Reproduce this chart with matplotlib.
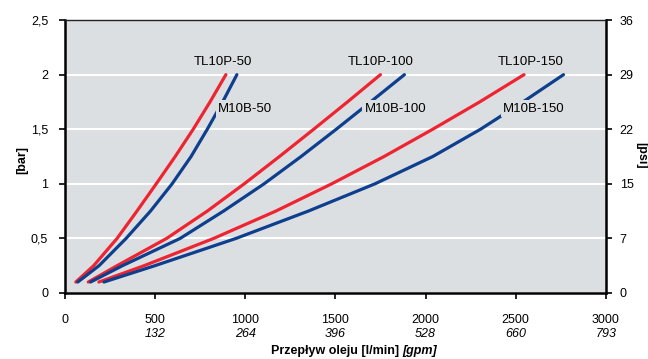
import matplotlib
matplotlib.use('Agg')
import matplotlib.pyplot as plt
import matplotlib.transforms as mtransforms

plt.rcParams['font.family'] = ['Liberation Sans', 'DejaVu Sans']

bar = [0.1, 0.25, 0.5, 0.75, 1.0, 1.25, 1.5, 1.75, 2.0]
tl10p_50 = [61, 160, 290, 400, 507, 612, 712, 805, 893]
m10b_50 = [72, 190, 340, 475, 595, 700, 790, 875, 954]
tl10p_100 = [130, 290, 565, 790, 995, 1190, 1380, 1567, 1750]
m10b_100 = [143, 320, 640, 880, 1105, 1310, 1505, 1695, 1883]
tl10p_150 = [189, 440, 826, 1170, 1480, 1770, 2040, 2300, 2546]
m10b_150 = [217, 500, 950, 1350, 1720, 2040, 2305, 2540, 2765]

series = [('TL10P-50', tl10p_50), ('M10B-50', m10b_50),
          ('TL10P-100', tl10p_100), ('M10B-100', m10b_100),
          ('TL10P-150', tl10p_150), ('M10B-150', m10b_150)]

# label positions (flow, bar)
label_pos = {'TL10P-50': (878, 2.12), 'M10B-50': (1000, 1.69),
             'TL10P-100': (1750, 2.12), 'M10B-100': (1833, 1.69),
             'TL10P-150': (2583, 2.12), 'M10B-150': (2600, 1.69)}

x_ticks = [0, 500, 1000, 1500, 2000, 2500, 3000]
gpm_labels = ['', '132', '264', '396', '528', '660', '793']
y_ticks = [0, 0.5, 1, 1.5, 2, 2.5]
y_labels = ['0', '0,5', '1', '1,5', '2', '2,5']
psi_labels = ['0', '7', '15', '22', '29', '36']

red = '#ee2430'
blue = '#0e3f8e'
bg = '#dcdfe2'

fig = plt.figure(figsize=(6.48, 3.59), dpi=100)
ax = fig.add_axes([0.100, 0.184, 0.835, 0.760])
ax.set_facecolor(bg)

for name, flow in series:
    col = red if name.startswith('TL') else blue
    ax.plot(flow, bar, color=col, lw=2.3, solid_capstyle='round',
            solid_joinstyle='round', zorder=3)

for name, (xx, yy) in label_pos.items():
    ax.text(xx, yy, name, ha='center', va='center', fontsize=9.5, zorder=4,
            bbox=dict(facecolor=bg, edgecolor='none', pad=1.5))

ax.set_xlim(0, 3000)
ax.set_ylim(0, 2.5)
ax.set_xticks(x_ticks)
ax.set_xticklabels([str(v) for v in x_ticks], fontsize=9)
ax.set_yticks(y_ticks)
ax.set_yticklabels(y_labels, fontsize=9)
ax.grid(axis='y', color='white', lw=1.5, zorder=1)
ax.set_axisbelow(True)
ax.tick_params(axis='y', direction='out', length=4, width=1.2, pad=8)
ax.tick_params(axis='x', direction='out', length=4, width=1.2, pad=11)

for s in ['left', 'right', 'bottom']:
    ax.spines[s].set_linewidth(1.8)
    ax.spines[s].set_color('black')
ax.spines['top'].set_linewidth(1.0)
ax.spines['top'].set_color('#222222')

trans = mtransforms.blended_transform_factory(ax.transData, ax.transAxes)
for xv, lab in zip(x_ticks, gpm_labels):
    ax.text(xv, -0.152, lab, transform=trans, ha='center', va='center',
            fontsize=9, style='italic')

ax2 = ax.twinx()
ax2.set_ylim(0, 2.5)
ax2.set_yticks(y_ticks)
ax2.set_yticklabels(psi_labels, fontsize=9)
ax2.tick_params(direction='out', length=4, width=1.2, pad=6)
for s in ax2.spines.values():
    s.set_visible(False)

fig.text(0.034, 0.555, '[bar]', rotation=90, ha='center', va='center',
         fontsize=9, fontweight='bold')
fig.text(0.990, 0.568, '[psi]', rotation=-90, ha='center', va='center',
         fontsize=9, fontweight='bold')

fig.text(0.621, 0.013, 'Przepływ oleju [l/min] ', ha='right', va='baseline',
         fontsize=9, fontweight='bold')
fig.text(0.621, 0.013, '[gpm]', ha='left', va='baseline',
         fontsize=9, fontweight='bold', style='italic')

fig.savefig('out.png', dpi=100, facecolor='white')
